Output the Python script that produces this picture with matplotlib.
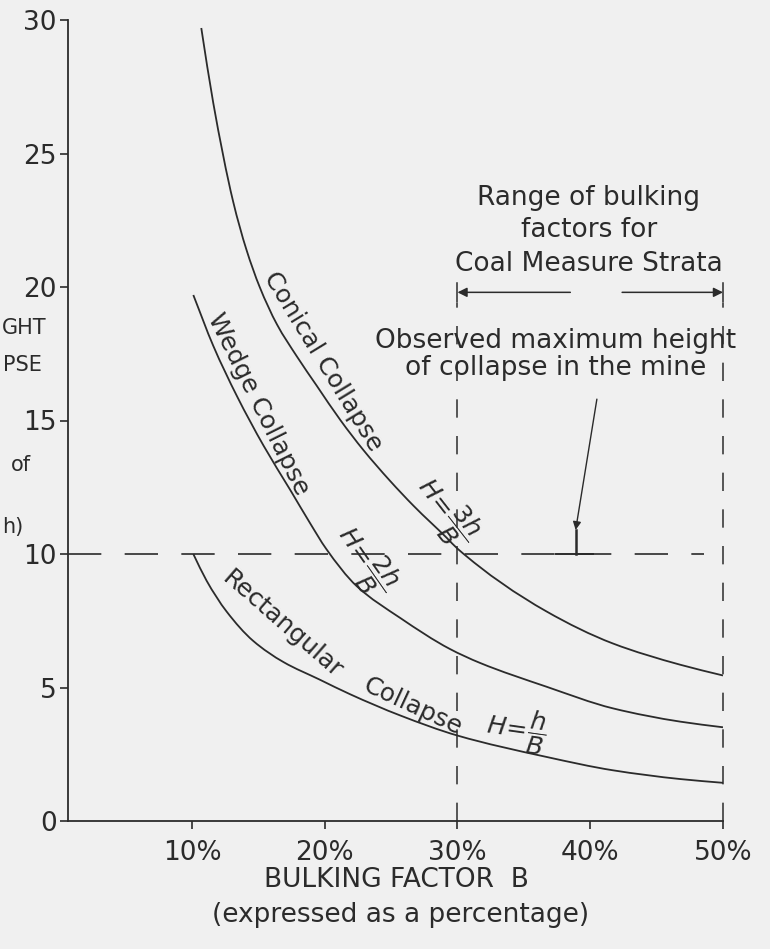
"""
Height of collapse vs bulking factor: conical / wedge / rectangular collapse.
"""

import numpy as np
import matplotlib.pyplot as plt
from matplotlib.path import Path
from matplotlib.patches import PathPatch

# ---------------------------------------------------------------- data

conical_b = [10.7, 11.6, 13.1, 14.1, 15.1, 16.4, 17.9, 19.4, 21.2, 22.9, 24.9,
             26.7, 29.2, 30.0, 36.7, 41.7, 46.8, 50.0]
conical_h = [29.7, 26.9, 23.2, 21.4, 20.0, 18.6, 17.4, 16.3, 15.0, 13.9, 12.75,
             11.8, 10.6, 10.2, 7.85, 6.65, 5.85, 5.45]

wedge_b = [10.1, 11.6, 13.4, 15.4, 17.4, 18.9, 20.1, 22.4, 25.7, 29.4, 31.7,
           36.7, 41.7, 46.8, 50.0]
wedge_h = [19.7, 17.8, 15.9, 14.05, 12.4, 11.15, 10.2, 8.8, 7.6, 6.45, 5.92,
           5.03, 4.22, 3.72, 3.51]

rect_b = [10.1, 11.1, 12.6, 14.6, 16.9, 19.6, 21.9, 25.7, 30.0, 36.7, 41.7, 46.8, 50.0]
rect_h = [10.0, 9.0, 7.85, 6.75, 5.95, 5.3, 4.75, 3.95, 3.2, 2.4, 1.9, 1.57, 1.43]

observed_max = 10.0          # observed maximum height of collapse
coal_range = (30.0, 50.0)    # range of bulking factors for Coal Measure Strata

x_ticks = [10, 20, 30, 40, 50]
x_labels = ["10%", "20%", "30%", "40%", "50%"]
y_ticks = [0, 5, 10, 15, 20, 25, 30]

# ---------------------------------------------------------------- style

INK = "#2b2b2b"
BG = "#f0f0f0"
plt.rcParams["font.family"] = ["DejaVu Sans"]
plt.rcParams["mathtext.fontset"] = "dejavusans"


def hermite_path(xs, ys):
    """Smooth monotone (PCHIP-style) curve through the points, as Bezier segments."""
    xs, ys = np.asarray(xs, float), np.asarray(ys, float)
    dx = np.diff(xs)
    d = np.diff(ys) / dx
    m = np.empty_like(xs)
    m[0], m[-1] = d[0], d[-1]
    for i in range(1, len(xs) - 1):
        if d[i - 1] * d[i] <= 0:
            m[i] = 0.0
        else:
            w1 = 2 * dx[i] + dx[i - 1]
            w2 = dx[i] + 2 * dx[i - 1]
            m[i] = (w1 + w2) / (w1 / d[i - 1] + w2 / d[i])
    verts = [(xs[0], ys[0])]
    codes = [Path.MOVETO]
    for i, h in enumerate(dx):
        verts += [(xs[i] + h / 3, ys[i] + m[i] * h / 3),
                  (xs[i + 1] - h / 3, ys[i + 1] - m[i + 1] * h / 3),
                  (xs[i + 1], ys[i + 1])]
        codes += [Path.CURVE4] * 3
    return Path(verts, codes)


W, H = 770, 949
fig = plt.figure(figsize=(W / 100, H / 100), dpi=100, facecolor=BG)
ax = fig.add_axes([68 / W, 1 - 821 / H, (723 - 68) / W, (821 - 20) / H])
ax.set_facecolor(BG)

ax.set_xlim(0.66, 50)
ax.set_ylim(0, 30)

for side in ("top", "right"):
    ax.spines[side].set_visible(False)
for side in ("left", "bottom"):
    ax.spines[side].set_color(INK)
    ax.spines[side].set_linewidth(1.3)

ax.set_xticks(x_ticks, x_labels)
ax.set_yticks(y_ticks)
ax.tick_params(axis="both", colors=INK, labelsize=19, width=1.2, length=6)
ax.tick_params(axis="x", pad=8)
ax.tick_params(axis="y", pad=2)

# ---------------------------------------------------------------- curves

for xs, ys in [(conical_b, conical_h), (wedge_b, wedge_h), (rect_b, rect_h)]:
    ax.add_patch(PathPatch(hermite_path(xs, ys), fill=False, edgecolor=INK,
                           linewidth=1.3, capstyle="butt"))

# observed maximum height and coal-measure range, dashed
ax.plot([0.66, 48.6], [observed_max, observed_max], color=INK, linewidth=1.2,
        dashes=(20, 14))
for xb in coal_range:
    ax.plot([xb, xb], [0, 19.4], color=INK, linewidth=1.1, dashes=(12, 12),
            clip_on=False)

# range arrows
arrow_y = 19.8
ax.annotate("", xy=(coal_range[0], arrow_y), xytext=(38.5, arrow_y),
            arrowprops=dict(arrowstyle="-|>", color=INK, lw=1.1,
                            mutation_scale=14, shrinkA=0, shrinkB=0))
ax.annotate("", xy=(coal_range[1], arrow_y), xytext=(42.4, arrow_y),
            arrowprops=dict(arrowstyle="-|>", color=INK, lw=1.1,
                            mutation_scale=14, shrinkA=0, shrinkB=0))
for xb in coal_range:
    ax.plot([xb, xb], [arrow_y - 0.35, arrow_y + 0.35], color=INK, lw=1.1,
            clip_on=False)

# pointer to the observed maximum
ax.annotate("", xy=(38.9, 10.9), xytext=(40.5, 15.8),
            arrowprops=dict(arrowstyle="-|>", color=INK, lw=1.0,
                            mutation_scale=12, shrinkA=0, shrinkB=0))
ax.plot([38.9, 38.9], [10.9, observed_max], color=INK, lw=1.8)
ax.plot([37.4, 40.2], [observed_max, observed_max], color=INK, lw=1.4)

# ---------------------------------------------------------------- labels

txt = dict(color=INK, fontsize=19, ha="center", va="center")
ax.text(39.9, 23.33, "Range of bulking", **txt)
ax.text(39.9, 22.13, "factors for", **txt)
ax.text(39.9, 20.85, "Coal Measure Strata", **txt)
ax.text(37.4, 17.96, "Observed maximum height", **txt)
ax.text(37.4, 16.96, "of collapse in the mine", **txt)

crv = dict(txt, fontsize=18)
ax.text(19.9, 17.2, "Conical Collapse", rotation=-58.5, **crv)
ax.text(29.1, 11.6, r"$H\!=\!\dfrac{3h}{B}$", rotation=-52, **crv)
ax.text(15.0, 15.6, "Wedge Collapse", rotation=-63.5, **crv)
ax.text(23.0, 9.75, r"$H\!=\!\dfrac{2h}{B}$", rotation=-55, **crv)
ax.text(16.8, 7.35, "Rectangular", rotation=-41, **crv)
ax.text(26.6, 4.3, "Collapse", rotation=-25, **crv)
ax.text(34.4, 3.4, r"$H\!=\!\dfrac{h}{B}$", rotation=-8, **crv)

fig.text(396 / W, 1 - 880 / H, "BULKING FACTOR  B", color=INK, fontsize=19,
         ha="center", va="center")
fig.text(401 / W, 1 - 915 / H, "(expressed as a percentage)", color=INK,
         fontsize=19, ha="center", va="center")

# y label: only the fragments left of the scan's cut edge are visible
for ypx, xl, s in [(328, 2, "GHT"), (365, 3, "PSE"), (465, 11, "of"),
                   (527, 2, "h)")]:
    fig.text(xl / W, 1 - ypx / H, s, color=INK, fontsize=15, ha="left",
             va="center")

fig.savefig("out.png", dpi=100, facecolor=BG)
